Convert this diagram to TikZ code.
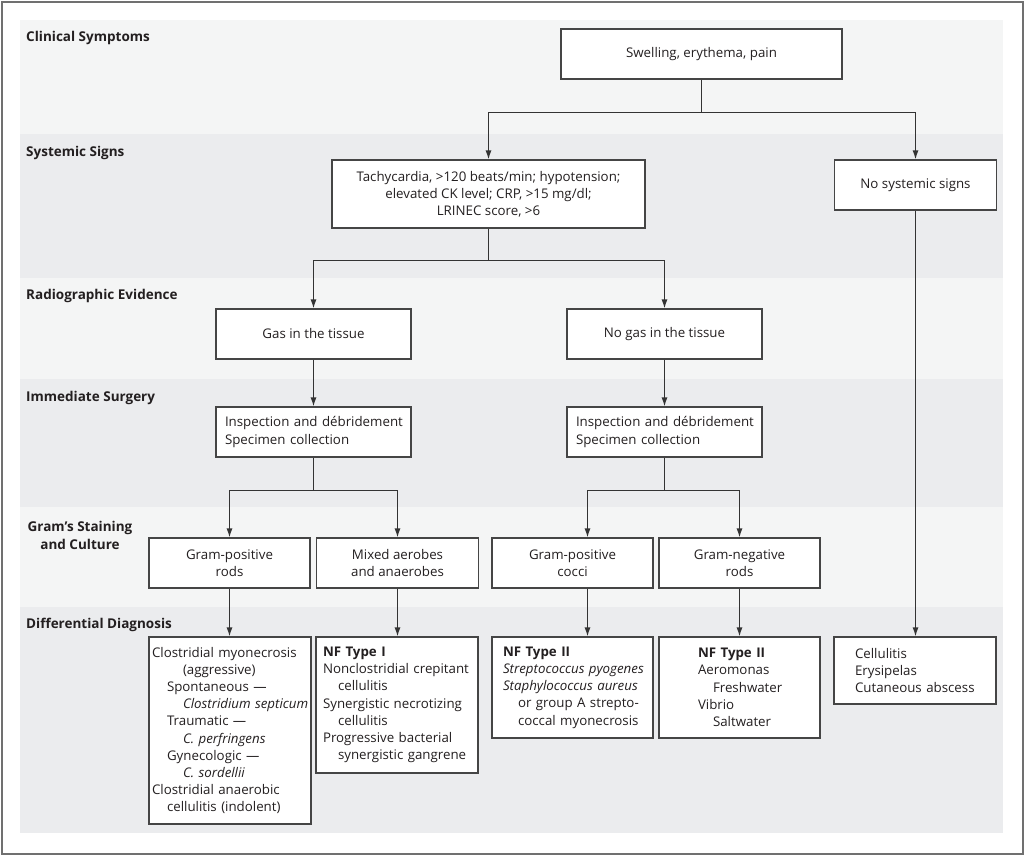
\documentclass[tikz,border=0pt]{standalone}
\usepackage{fontspec}
\setmainfont{Open Sans}
\usetikzlibrary{arrows.meta,calc}
\definecolor{bandL}{HTML}{F4F5F5}
\definecolor{bandD}{HTML}{EBECEE}
\definecolor{boxc}{HTML}{454545}
\definecolor{linec}{HTML}{333333}
\definecolor{txt}{HTML}{231F20}
\definecolor{frame}{HTML}{707070}
\begin{document}
\begin{tikzpicture}[x=1pt,y=-1pt,
  cbox/.style={draw=boxc, line width=1.2pt, fill=white, inner sep=0pt, text=txt,
    font=\fontsize{13.3}{17.2}\selectfont, align=center},
  lbox/.style={cbox, align=left},
  lab/.style={font=\fontsize{13.5}{18}\selectfont\bfseries, anchor=west, inner sep=0pt, text=txt},
  arr/.style={draw=linec, line width=1.2pt, -{Latex[length=9pt,width=6pt]}},
  ln/.style={draw=linec, line width=1.2pt}]
\useasboundingbox (0,0) rectangle (1024,855);
\fill[white] (0,0) rectangle (1024,855);
\draw[frame, line width=2pt] (1.5,1.5) rectangle (1022.5,853.5);
% bands
\fill[bandL] (20,20) rectangle (1003,134);
\fill[bandD] (20,134) rectangle (1003,278);
\fill[bandL] (20,278) rectangle (1003,379);
\fill[bandD] (20,379) rectangle (1003,507);
\fill[bandL] (20,507) rectangle (1003,607);
\fill[bandD] (20,607) rectangle (1003,833);
% band labels
\node[lab] (l1) at (26,38) {Clinical Symptoms};
\node[lab] (l2) at (26,153) {Systemic Signs};
\node[lab] (l3) at (26,296) {Radiographic Evidence};
\node[lab] (l4) at (26,398) {Immediate Surgery};
\node[lab, anchor=center, align=center] (l5) at (80,535) {Gram’s Staining\\and Culture};
\node[lab] (l6) at (26,625) {Differential Diagnosis};
% boxes
\node[cbox, minimum width=281, minimum height=50] (sw) at (701.5,54) {Swelling, erythema, pain};
\node[cbox, minimum width=313, minimum height=68] (tachy) at (488.5,194)
  {Tachycardia, >120 beats/min; hypotension;\\elevated CK level; CRP, >15 mg/dl;\\LRINEC score, >6};
\node[cbox, minimum width=162, minimum height=50] (nosys) at (915.5,185) {No systemic signs};
\node[cbox, minimum width=195, minimum height=50] (gas) at (313.5,334) {Gas in the tissue};
\node[cbox, minimum width=195, minimum height=50] (nogas) at (664.5,334) {No gas in the tissue};
\node[lbox, text width=195, minimum height=50] (insp1) at (313.5,432)
  {\leftskip=9pt\relax Inspection and débridement\\Specimen collection\par};
\node[lbox, text width=195, minimum height=50] (insp2) at (664.5,432)
  {\leftskip=9pt\relax Inspection and débridement\\Specimen collection\par};
\node[cbox, minimum width=161, minimum height=50] (gpr) at (229.5,563) {Gram-positive\\rods};
\node[cbox, minimum width=162, minimum height=50] (mix) at (397.5,563) {Mixed aerobes\\and anaerobes};
\node[cbox, minimum width=161, minimum height=50] (gpc) at (572.5,563) {Gram-positive\\cocci};
\node[cbox, minimum width=161, minimum height=50] (gnr) at (739.5,563) {Gram-negative\\rods};
\node[lbox, text width=162, minimum height=187] (clos) at (230,730.5)
  {\leftskip=3pt\relax Clostridial myonecrosis\\
   \hspace*{31pt}(aggressive)\\
   \hspace*{15pt}Spontaneous —\\
   \hspace*{31pt}\textit{Clostridium septicum}\\
   \hspace*{15pt}Traumatic —\\
   \hspace*{31pt}\textit{C. perfringens}\\
   \hspace*{15pt}Gynecologic —\\
   \hspace*{31pt}\textit{C. sordellii}\\
   Clostridial anaerobic\\
   \hspace*{15pt}cellulitis (indolent)\par};
\node[lbox, text width=162, minimum height=136] (nf1) at (397,705)
  {\leftskip=7pt\relax \textbf{NF Type I}\\
   Nonclostridial crepitant\\
   \hspace*{15pt}cellulitis\\
   Synergistic necrotizing\\
   \hspace*{15pt}cellulitis\\
   Progressive bacterial\\
   \hspace*{15pt}synergistic gangrene\par};
\node[lbox, text width=161, minimum height=101] (nf2a) at (572.5,687.5)
  {\leftskip=11pt\relax \textbf{NF Type II}\\
   \textit{Streptococcus pyogenes}\\
   \textit{Staphylococcus aureus}\\
   \hspace*{15pt}or group A strepto-\\
   \hspace*{15pt}coccal myonecrosis\par};
\node[lbox, text width=161, minimum height=101] (nf2b) at (739.5,687.5)
  {\leftskip=39pt\relax \textbf{NF Type II}\\
   Aeromonas\\
   \hspace*{15pt}Freshwater\\
   Vibrio\\
   \hspace*{15pt}Saltwater\par};
\node[lbox, text width=162, minimum height=67] (cell) at (915,670.5)
  {\leftskip=21pt\relax Cellulitis\\Erysipelas\\Cutaneous abscess\par};
% connectors
\path (sw.south) ++(0,32.5) coordinate (j1);
\draw[ln] (sw.south) -- (j1);
\draw[arr] (j1) -| (tachy.north);
\draw[arr] (j1) -| (nosys.north);
\path (tachy.south) ++(0,31.5) coordinate (j2);
\draw[ln] (tachy.south) -- (j2);
\draw[arr] (j2) -| (gas.north);
\draw[arr] (j2) -| (nogas.north);
\draw[arr] (gas.south) -- (insp1.north);
\draw[arr] (nogas.south) -- (insp2.north);
\path (insp1.south) ++(0,32.5) coordinate (j3);
\draw[ln] (insp1.south) -- (j3);
\draw[arr] (j3) -| (gpr.north);
\draw[arr] (j3) -| (mix.north);
\path (insp2.south) ++(0,32.5) coordinate (j4);
\draw[ln] (insp2.south) -- (j4);
\coordinate (gpcin) at ($(gpc.north)+(15,0)$);
\coordinate (gpcout) at ($(gpc.south)+(15,0)$);
\draw[arr] (j4) -| (gpcin);
\draw[arr] (j4) -| (gnr.north);
\draw[arr] (gpr.south) -- (gpr.south |- clos.north);
\draw[arr] (mix.south) -- (mix.south |- nf1.north);
\draw[arr] (gpcout) -- (gpcout |- nf2a.north);
\draw[arr] (gnr.south) -- (gnr.south |- nf2b.north);
\draw[arr] (nosys.south) -- (nosys.south |- cell.north);
\end{tikzpicture}
\end{document}
